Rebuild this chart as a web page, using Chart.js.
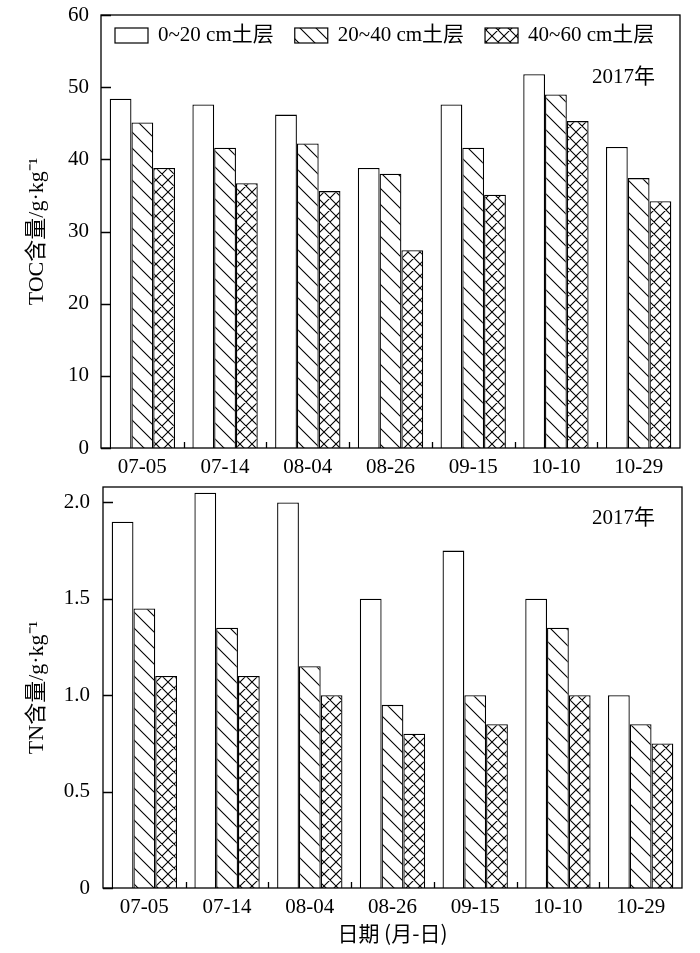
<!DOCTYPE html>
<html>
<head>
<meta charset="utf-8">
<script src="https://cdn.jsdelivr.net/npm/chart.js@4.4.0/dist/chart.umd.min.js"></script>
<style>
body{margin:0;background:#fff;}
#wrap{position:relative;width:700px;height:953px;background:#fff;}
#c1{position:absolute;left:0;top:0;}
#c2{position:absolute;left:0;top:478px;}
</style>
</head>
<body>
<div id="wrap">
<canvas id="c1" width="700" height="478"></canvas>
<canvas id="c2" width="700" height="475"></canvas>
</div>
<script>
// data
var dates = ['07-05', '07-14', '08-04', '08-26', '09-15', '10-10', '10-29'];
var layers = ['0~20 cm土层', '20~40 cm土层', '40~60 cm土层'];
var toc0_20 = [48.4, 47.6, 46.2, 38.8, 47.6, 51.8, 41.7];
var toc20_40 = [45.1, 41.6, 42.2, 38.0, 41.6, 49.0, 37.4];
var toc40_60 = [38.8, 36.7, 35.6, 27.4, 35.1, 45.3, 34.2];
var tn0_20 = [1.90, 2.05, 2.00, 1.50, 1.75, 1.50, 1.00];
var tn20_40 = [1.45, 1.35, 1.15, 0.95, 1.00, 1.35, 0.85];
var tn40_60 = [1.10, 1.10, 1.00, 0.80, 0.85, 1.00, 0.75];
var tocTicks = [0, 10, 20, 30, 40, 50, 60];
var tnTicks = [0, 0.5, 1.0, 1.5, 2.0];
var yearText = '2017年';

var serif = '"Liberation Serif", "Noto Sans CJK SC", serif';

// hatch fills
function makePattern(size, cross){
    var c = document.createElement('canvas');
    c.width = size; c.height = size;
    var g = c.getContext('2d');
    g.fillStyle = '#fff';
    g.fillRect(0, 0, size, size);
    g.strokeStyle = '#000';
    g.lineWidth = 1.1;
    g.beginPath();
    g.moveTo(-2, -2); g.lineTo(size + 2, size + 2);
    g.moveTo(-2, size - 2); g.lineTo(2, size + 2);
    g.moveTo(size - 2, -2); g.lineTo(size + 2, 2);
    if (cross){
        g.moveTo(size + 2, -2); g.lineTo(-2, size + 2);
        g.moveTo(2, -2); g.lineTo(-2, 2);
        g.moveTo(size + 2, size - 2); g.lineTo(size - 2, size + 2);
    }
    g.stroke();
    return g.createPattern(c, 'repeat');
}
var ctx1 = document.getElementById('c1').getContext('2d');
var hatch = makePattern(16, false);
var xhatch = makePattern(12, true);
var fills = ['#ffffff', hatch, xhatch];

// box, inward ticks, year text and legend
var framePlugin = {
    id: 'frame',
    afterDatasetsDraw: function(chart, args, opts){
        var ctx = chart.ctx, a = chart.chartArea;
        var x = chart.scales.x, y = chart.scales.y;
        ctx.save();
        ctx.strokeStyle = '#000';
        ctx.lineWidth = 1.3;
        ctx.strokeRect(a.left, a.top, a.right - a.left, a.bottom - a.top);
        ctx.beginPath();
        y.ticks.forEach(function(t){
            var py = Math.round(y.getPixelForValue(t.value)) + 0.5;
            ctx.moveTo(a.left, py); ctx.lineTo(a.left + 10, py);
        });
        for (var i = 0; i < x.ticks.length - 1; i++){
            var px = Math.round((x.getPixelForTick(i) + x.getPixelForTick(i + 1)) / 2) + 0.5;
            ctx.moveTo(px, a.bottom); ctx.lineTo(px, a.bottom - 6);
        }
        ctx.stroke();

        ctx.fillStyle = '#000';
        ctx.font = '21px ' + serif;
        ctx.textAlign = 'right';
        ctx.textBaseline = 'middle';
        ctx.fillText(opts.text, a.right - opts.dx, a.top + opts.dy);

        if (opts.legend){
            var lx = a.left + 14, ly = a.top + 20.5;
            ctx.textAlign = 'left';
            ctx.lineWidth = 1.2;
            chart.data.datasets.forEach(function(ds){
                ctx.fillStyle = ds.backgroundColor;
                ctx.fillRect(lx, ly - 7.5, 33, 15);
                ctx.strokeRect(lx, ly - 7.5, 33, 15);
                ctx.fillStyle = '#000';
                ctx.fillText(ds.label, lx + 43, ly);
                lx += 43 + ctx.measureText(ds.label).width + 21;
            });
        }
        ctx.restore();
    }
};

function barSets(series){
    return series.map(function(s, i){
        return {
            label: layers[i],
            data: s,
            backgroundColor: fills[i],
            borderColor: '#000',
            borderWidth: 1.3,
            barPercentage: 1.0,
            categoryPercentage: 0.79
        };
    });
}

function makeOptions(cfg){
    return {
        responsive: false,
        animation: false,
        layout: {autoPadding: false, padding: {left: 0, right: cfg.right, top: cfg.top, bottom: 0}},
        plugins: {
            legend: {display: false},
            tooltip: {enabled: false},
            frame: {text: yearText, dx: cfg.dx, dy: cfg.dy, legend: cfg.legend}
        },
        scales: {
            x: {
                grid: {display: false, drawTicks: false},
                border: {display: false},
                ticks: {color: '#000', font: {family: serif, size: 21}, padding: 7, maxRotation: 0},
                title: {display: !!cfg.xTitle, text: cfg.xTitle, color: '#000',
                        font: {family: '"Noto Sans CJK SC", sans-serif', size: 21}, padding: {top: 0, bottom: 7}},
                afterFit: function(s){ s.height = cfg.xh; }
            },
            y: {
                min: 0,
                max: cfg.max,
                grid: {display: false, drawTicks: false},
                border: {display: false},
                afterBuildTicks: function(s){ s.ticks = cfg.ticks.map(function(v){ return {value: v}; }); },
                ticks: {color: '#000', font: {family: serif, size: 21}, padding: cfg.pad,
                        callback: function(v){ return v === 0 ? '0' : v.toFixed(cfg.dec); }},
                title: {display: true, text: cfg.yTitle, color: '#000',
                        font: {family: serif, size: 22}, padding: {top: 24, bottom: 0}},
                afterFit: function(s){
                    s.width = cfg.yw;
                    s.paddingTop = 0;
                    s.paddingBottom = 0;
                }
            }
        }
    };
}

new Chart(ctx1, {
    type: 'bar',
    data: {labels: dates, datasets: barSets([toc0_20, toc20_40, toc40_60])},
    options: makeOptions({right: 20, top: 15, xh: 30, yw: 101, max: 60, ticks: tocTicks, dec: 0, pad: 12,
                          yTitle: 'TOC含量/g·kg⁻¹', dx: 25, dy: 62, legend: true}),
    plugins: [framePlugin]
});

new Chart(document.getElementById('c2').getContext('2d'), {
    type: 'bar',
    data: {labels: dates, datasets: barSets([tn0_20, tn20_40, tn40_60])},
    options: makeOptions({right: 18, top: 9, xh: 65, yw: 103, max: 2.08, ticks: tnTicks, dec: 1, pad: 13,
                          yTitle: 'TN含量/g·kg⁻¹', xTitle: '日期 (月-日)', dx: 27, dy: 31, legend: false}),
    plugins: [framePlugin]
});
</script>
</body>
</html>
